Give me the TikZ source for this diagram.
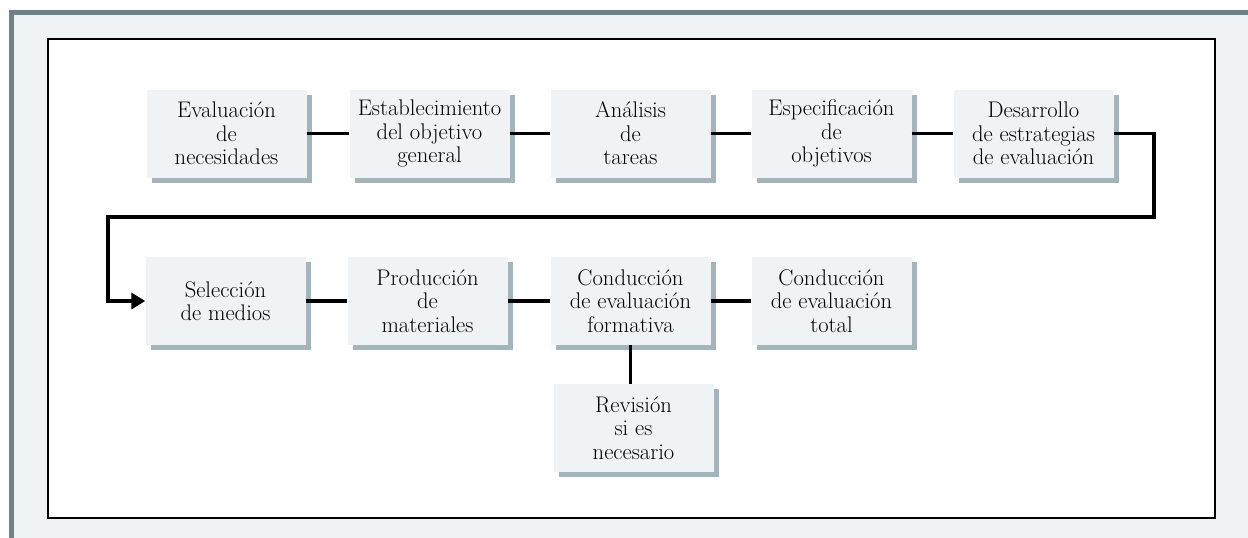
\documentclass[tikz,border=0pt]{standalone}
\usepackage{tikz}
\usetikzlibrary{shadows,arrows.meta}
\definecolor{boxfill}{RGB}{239,243,246}
\definecolor{shadowc}{RGB}{163,181,186}
\definecolor{framegray}{RGB}{107,130,135}
\tikzset{
  stepbox/.style={rectangle, fill=boxfill, minimum width=160pt, minimum height=88pt,
    inner sep=0pt, align=center, font=\fontsize{22.6}{23.5}\selectfont,
    general shadow={fill=shadowc, shadow xshift=5pt, shadow yshift=-5pt}},
  link/.style={line width=3.4pt, black},
}
\begin{document}
\begin{tikzpicture}[x=1pt,y=-1pt]
\useasboundingbox (0,0) rectangle (1248,538);
% outer background and frame
\fill[boxfill] (9,10) rectangle (1248,538);
\fill[framegray] (9,10) rectangle (1248,15);
\fill[framegray] (9,10) rectangle (14,538);
% inner frame
\draw[line width=2pt, fill=white] (48,39) rectangle (1215,518);
% row 1
\node[stepbox] (b1) at (226.5,133.5) {Evaluación\\de\\necesidades};
\node[stepbox] (b2) at (429.5,133.5) {Establecimiento\\del objetivo\\general};
\node[stepbox] (b3) at (630.5,133.5) {Análisis\\de\\tareas};
\node[stepbox] (b4) at (831.5,133.5) {Especificación\\de\\objetivos};
\node[stepbox] (b5) at (1033.5,133.5) {Desarrollo\\de estrategias\\de evaluación};
% row 2
\node[stepbox] (b6) at (225.5,301) {Selección\\de medios};
\node[stepbox] (b7) at (427.5,301) {Producción\\de\\materiales};
\node[stepbox] (b8) at (630.5,301) {Conducción\\de evaluación\\formativa};
\node[stepbox] (b9) at (831.5,301) {Conducción\\de evaluación\\total};
\node[stepbox] (b10) at (633.5,428) {Revisión\\si es\\necesario};
% connectors
\draw[link] (b1) -- (b2);
\draw[link] (b2) -- (b3);
\draw[link] (b3) -- (b4);
\draw[link] (b4) -- (b5);
\coordinate (c1) at (1154,133.5);
\coordinate (c2) at (1154,217);
\coordinate (c3) at (108,217);
\coordinate (c4) at (108,301);
\draw[link, line join=miter, -{Triangle[length=14pt,width=16pt]}] (b5.east) -- (c1) -- (c2) -- (c3) -- (c4) -- (b6.west);
\draw[link] (b6) -- (b7);
\draw[link] (b7) -- (b8);
\draw[link] (b8) -- (b9);
\draw[link] (b8.south) -- (b8.south |- b10.north);
\end{tikzpicture}
\end{document}
